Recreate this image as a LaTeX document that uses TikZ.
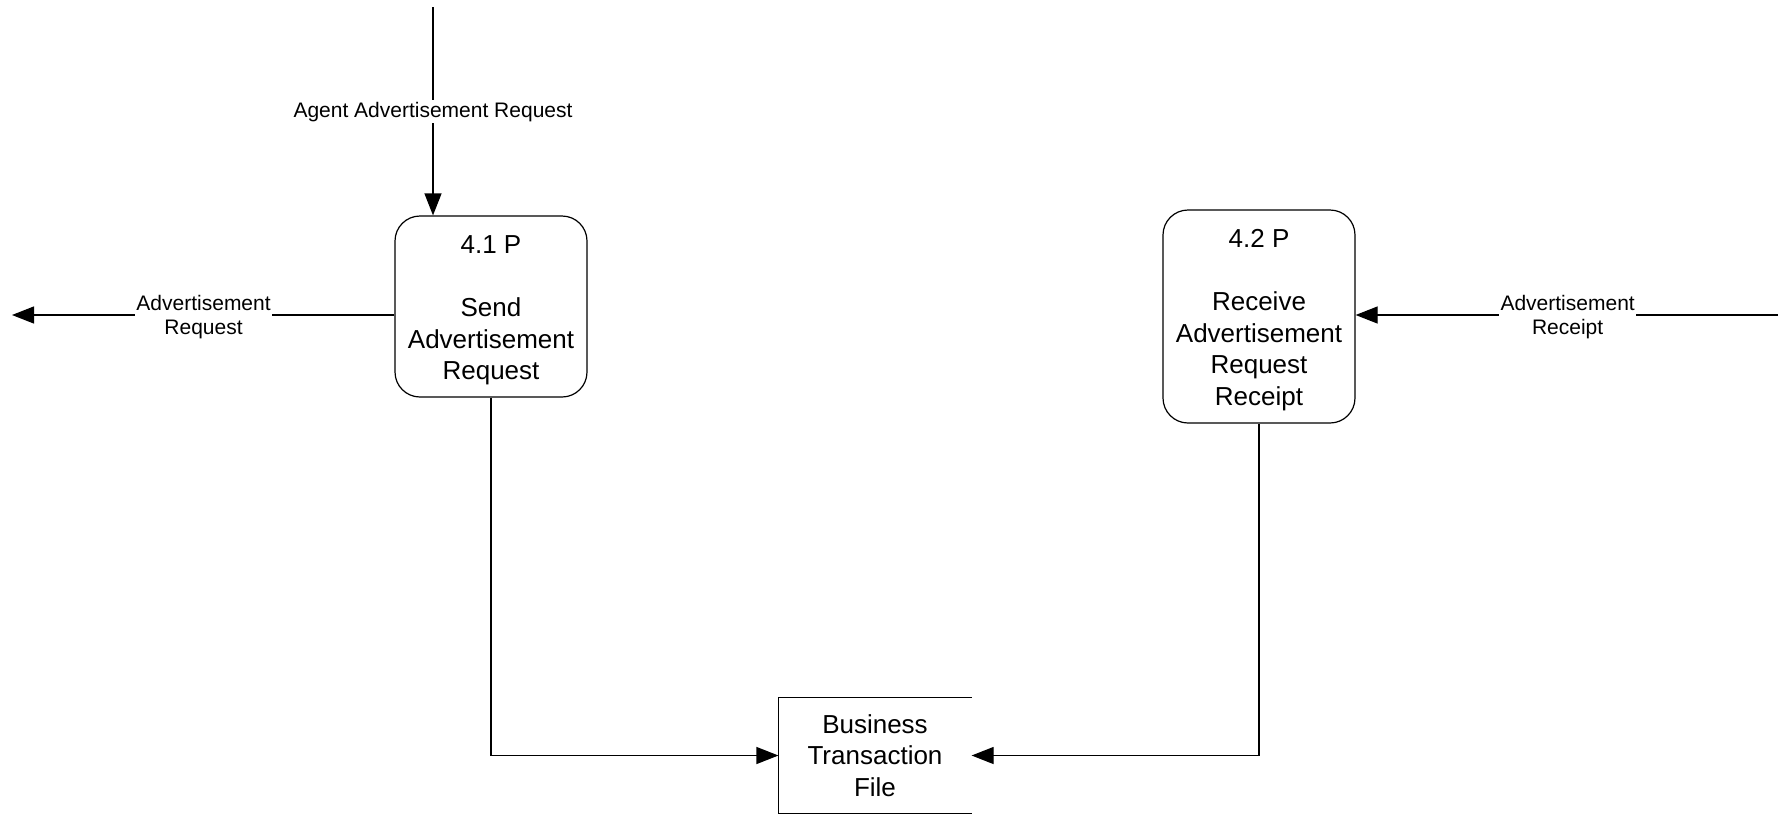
\documentclass[tikz,border=0pt]{standalone}
\usepackage{fontspec}
\setmainfont{Liberation Sans}
\usetikzlibrary{arrows.meta}
\begin{document}
\begin{tikzpicture}[x=1pt,y=-1pt,
  line width=1.2pt,
  flow/.style={-{Triangle[length=22pt,width=17pt]}},
  process/.style={draw, rounded corners=25pt, minimum width=192pt, minimum height=181pt,
    align=center, inner sep=0pt, font=\fontsize{26}{31.5}\selectfont},
  storebox/.style={minimum width=192pt, minimum height=115pt, align=center, inner sep=0pt,
    font=\fontsize{26}{31.5}\selectfont},
  flowlabel/.style={fill=white, inner sep=1.5pt, align=center, font=\fontsize{21}{23.5}\selectfont}]
\useasboundingbox (0,0) rectangle (1784,815);

% processes; the text is lowered a little inside each box
\node[process] (p41) at (491,306.5) {\\[-6pt]4.1 P\\[31.5pt]Send\\Advertisement\\Request};
\node[process, minimum height=213pt] (p42) at (1259,316.5) {\\[-6pt]4.2 P\\[31.5pt]Receive\\Advertisement\\Request\\Receipt};

% data store (open on the right)
\node[storebox] (store) at (875,755.5) {Business\\Transaction\\File};
\draw (store.north east) -- (store.north west) -- (store.south west) -- (store.south east);

% free ends of external flows
\coordinate (agentsrc) at (433,7);
\coordinate (lefttip) at (12,315);
\coordinate (rightsrc) at (1778,315);

% external flows
\draw[flow] (agentsrc) -- (agentsrc |- p41.north)
  node[flowlabel, pos=0.502] (lagent) {Agent Advertisement Request};
\draw[flow] (p41.west |- lefttip) -- (lefttip)
  node[flowlabel, pos=0.499, yshift=-2pt] (lreq) {Advertisement\\Request};
\draw[flow] (rightsrc) -- (p42.east |- rightsrc)
  node[flowlabel, pos=0.498, yshift=-2pt] (lrec) {Advertisement\\Receipt};

% flows into the store
\draw[flow] (p41.south) |- (store.west);
\draw[flow] (p42.south) |- (store.east);
\end{tikzpicture}
\end{document}
